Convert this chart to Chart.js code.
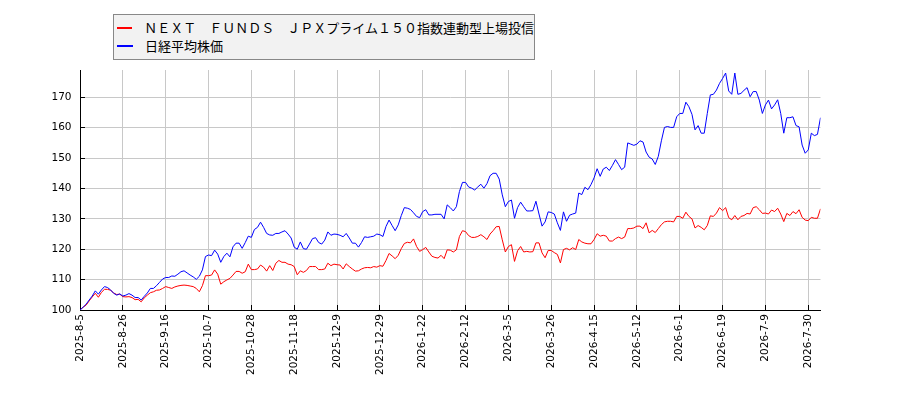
<!DOCTYPE html>
<html>
<head>
<meta charset="utf-8">
<script src="https://cdn.jsdelivr.net/npm/chart.js@4/dist/chart.umd.min.js"></script>
<style>
  html, body { margin: 0; padding: 0; background: #fff; }
  #wrap { position: relative; width: 900px; height: 400px; background: #fff; }
  #legend { position: absolute; left: 113px; top: 14px; width: 420px; height: 40px;
    border: 1px solid #888; background: #f2f2f2; padding-top: 4px; box-sizing: content-box;
    font-family: "Noto Sans CJK JP", "DejaVu Sans", sans-serif; font-size: 13px; color: #000; }
  #legend .row { height: 18px; line-height: 18px; white-space: nowrap; display: flex; align-items: center; }
  #legend .mk { display: inline-block; width: 16px; height: 2px; margin-left: 3px; margin-right: 12px; }
</style>
</head>
<body>
<div id="wrap">
  <canvas id="c" width="900" height="400"></canvas>
  <div id="legend"></div>
</div>
<script>
const seriesNames = ['ＮＥＸＴ　ＦＵＮＤＳ　ＪＰＸプライム１５０指数連動型上場投信', '日経平均株価'];
const seriesColors = ['#ff0000', '#0000ff'];
const tickLabels = ['2025-8-5','2025-8-26','2025-9-16','2025-10-7','2025-10-28','2025-11-18','2025-12-9','2025-12-29','2026-1-22','2026-2-12','2026-3-5','2026-3-26','2026-4-15','2026-5-12','2026-6-1','2026-6-19','2026-7-9','2026-7-30'];
const tickEvery = 14;

const nextFunds = [
100.0,100.9,101.6,103.0,104.3,105.5,104.2,105.8,106.8,106.8,
106.5,105.6,105.1,105.2,104.4,104.3,104.4,104.1,103.4,103.5,
102.7,104.0,104.9,105.7,106.0,106.5,106.6,107.1,107.7,107.4,
107.1,107.6,107.9,108.1,108.2,108.1,107.9,107.7,107.1,106.0,
108.0,111.3,111.3,111.5,113.2,111.8,108.5,109.3,109.9,110.4,
111.5,112.7,112.7,112.1,112.6,115.1,113.3,113.3,113.5,114.8,
114.1,112.8,114.6,113.0,115.4,116.3,115.7,115.7,115.1,114.9,
114.3,111.6,112.9,112.4,113.0,114.3,114.3,114.3,113.3,113.3,
113.5,115.4,114.6,115.1,114.9,114.8,113.5,115.2,114.3,113.5,
112.8,112.9,113.5,113.9,114.0,113.9,114.3,114.1,114.6,114.4,
116.3,118.6,117.8,116.9,118.0,120.2,121.9,122.3,122.1,123.4,
120.9,119.3,119.9,120.6,119.1,117.7,117.3,117.1,118.0,116.9,
119.8,119.7,119.1,119.8,124.2,126.1,125.8,124.5,123.9,123.9,
124.2,124.8,124.1,123.2,125.0,126.1,127.4,127.5,123.1,119.1,
120.9,121.5,116.0,119.5,120.9,119.1,119.3,119.1,119.2,122.1,
122.1,118.8,117.2,119.6,119.6,118.9,118.3,115.5,119.9,120.3,
119.8,120.5,119.9,123.2,122.4,122.0,121.8,121.8,123.2,125.1,
124.3,124.6,124.3,122.7,122.7,123.5,124.0,123.5,124.0,126.8,
126.8,127.0,127.6,127.6,126.8,128.7,125.4,126.2,125.5,126.8,
128.1,129.0,129.2,129.2,129.0,130.8,130.8,130.2,132.2,130.8,
130.0,127.0,127.8,127.2,126.4,127.8,131.0,130.8,131.9,133.7,
132.7,133.7,130.4,129.7,131.1,129.7,130.8,131.1,131.8,131.6,
133.7,134.0,133.0,131.8,131.9,131.6,132.9,132.4,133.5,131.6,
129.1,131.8,131.1,132.4,131.7,133.0,130.5,129.6,129.4,130.5,
130.2,130.2,133.3
];

const nikkei = [
100.0,100.9,101.9,103.3,104.6,106.3,105.2,106.6,107.7,107.4,
106.6,105.5,104.9,105.3,104.6,104.9,105.4,104.9,104.1,104.1,
103.3,104.5,105.6,107.1,107.1,108.0,109.1,110.2,110.7,110.7,
111.2,111.1,111.8,112.6,112.9,112.2,111.5,110.9,110.1,111.1,
113.2,117.6,118.1,117.9,119.7,118.4,115.7,117.6,118.7,117.5,
120.8,122.0,122.0,120.3,122.2,124.3,123.9,126.5,127.2,128.9,
127.2,125.2,124.7,124.6,125.2,125.2,125.7,126.1,125.0,123.7,
120.7,120.0,122.4,120.2,120.0,121.7,123.5,123.8,122.2,121.7,
123.0,125.7,124.6,125.0,124.9,124.6,124.1,125.2,123.7,122.0,
122.0,120.7,122.2,124.1,123.9,124.1,124.3,125.0,124.8,124.2,
127.5,129.6,127.8,126.1,128.0,131.1,133.7,133.5,133.1,132.0,
130.8,130.4,132.4,133.0,131.3,131.3,131.5,131.5,131.5,130.0,
134.6,133.7,132.6,134.0,139.0,142.0,142.0,140.5,140.1,139.5,
140.5,141.4,140.1,141.6,144.2,145.0,145.0,143.1,137.9,134.0,
135.7,136.2,130.2,133.7,135.5,134.0,132.6,132.6,132.7,135.8,
131.6,127.6,129.0,132.3,132.1,131.6,128.7,126.2,132.3,129.2,
131.2,131.6,131.9,138.5,138.0,140.4,139.6,141.3,143.5,146.5,
144.0,146.4,147.0,145.9,147.6,149.5,147.9,146.2,147.0,155.0,
154.6,154.2,154.6,155.7,155.3,152.0,150.3,149.7,147.9,150.6,
155.7,160.1,160.4,160.1,160.1,163.6,164.7,164.7,168.4,166.9,
164.4,159.3,160.7,158.2,158.2,164.7,170.8,171.0,172.4,174.6,
176.2,178.0,172.1,171.0,178.0,171.0,171.3,172.3,173.2,170.2,
171.9,171.9,169.1,164.7,167.5,169.1,166.2,167.5,169.2,164.7,
158.2,163.3,163.3,163.6,160.7,160.3,154.3,151.6,152.7,158.2,
157.4,157.8,163.3
];

const yMin = 100, yMax = 179, yStep = 10;

// HTML legend built from the named arrays
const legendEl = document.getElementById('legend');
seriesNames.forEach((name, i) => {
  const row = document.createElement('div');
  row.className = 'row';
  const mk = document.createElement('span');
  mk.className = 'mk';
  mk.style.background = seriesColors[i];
  const tx = document.createElement('span');
  tx.textContent = name;
  row.appendChild(mk);
  row.appendChild(tx);
  legendEl.appendChild(row);
});

Chart.defaults.font.family = '"DejaVu Sans", sans-serif';
Chart.defaults.color = '#000';

const toPts = arr => arr.map((v, i) => ({ x: i, y: v }));

new Chart(document.getElementById('c'), {
  type: 'line',
  data: {
    datasets: [
      { label: seriesNames[0], data: toPts(nextFunds), borderColor: seriesColors[0], borderWidth: 1,
        pointRadius: 0, tension: 0, fill: false, order: 1 },
      { label: seriesNames[1], data: toPts(nikkei), borderColor: seriesColors[1], borderWidth: 1,
        pointRadius: 0, tension: 0, fill: false, order: 0 }
    ]
  },
  options: {
    responsive: false,
    animation: false,
    events: [],
    layout: { padding: { top: 70, right: 79.5, left: 0, bottom: 0 } },
    plugins: { legend: { display: false }, tooltip: { enabled: false } },
    scales: {
      x: {
        type: 'linear',
        min: 0,
        max: nikkei.length - 1,
        afterFit: s => { s.height = 90; },
        border: { display: true, color: '#000', width: 1 },
        grid: { color: '#c8c8c8', lineWidth: 1, tickLength: -5, tickColor: '#000', tickWidth: 1 },
        ticks: {
          stepSize: tickEvery,
          includeBounds: false,
          autoSkip: false,
          maxRotation: 90,
          minRotation: 90,
          padding: 9,
          font: { size: 10.5 },
          color: '#000',
          callback: v => tickLabels[Math.round(v / tickEvery)] || ''
        }
      },
      y: {
        min: yMin,
        max: yMax,
        afterFit: s => { s.width = 80; },
        border: { display: true, color: '#000', width: 1 },
        grid: { color: '#c8c8c8', lineWidth: 1, tickLength: -5, tickColor: '#000', tickWidth: 1 },
        ticks: {
          stepSize: yStep,
          includeBounds: false,
          padding: 13.5,
          font: { size: 10.5 },
          color: '#000',
          callback: v => String(v)
        }
      }
    }
  }
});
</script>
</body>
</html>
